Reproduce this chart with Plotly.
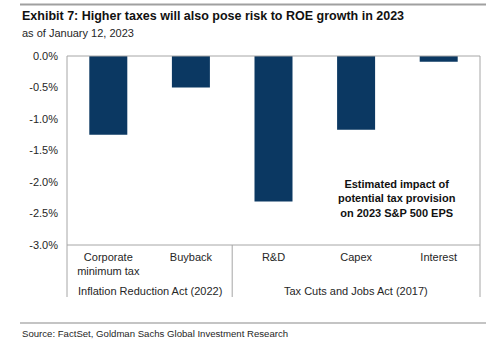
import plotly.graph_objects as go

categories = ["Corporate<br>minimum tax", "Buyback", "R&D", "Capex", "Interest"]
values = [-1.25, -0.50, -2.31, -1.17, -0.09]
groups = ["Inflation Reduction Act (2022)", "Tax Cuts and Jobs Act (2017)"]
group_sizes = [2, 3]
y_ticks = [0.0, -0.5, -1.0, -1.5, -2.0, -2.5, -3.0]
y_ticktext = ["0.0%", "-0.5%", "-1.0%", "-1.5%", "-2.0%", "-2.5%", "-3.0%"]

W, H = 500, 345
L, R, T, B = 67, 20, 56, 100
ph = H - T - B

def py(pix):
    return (H - B - pix) / ph

def px(pix):
    return (pix - L) / (W - L - R)

FONT = "Liberation Sans, Arial, sans-serif"
GRAY = "#a6a6a6"
TXT = "#262626"

fig = go.Figure(go.Bar(x=categories, y=values, marker_color="#0b3862",
                       marker_line_width=0, hoverinfo="skip"))

shapes = []
bottom = py(297)
shapes.append(dict(type="line", xref="paper", yref="paper", x0=0, x1=0, y0=1, y1=bottom, line=dict(color=GRAY, width=1)))
shapes.append(dict(type="line", xref="paper", yref="paper", x0=1, x1=1, y0=1, y1=bottom, line=dict(color=GRAY, width=1)))
shapes.append(dict(type="line", xref="paper", yref="paper", x0=0, x1=1, y0=0, y1=0, line=dict(color=GRAY, width=1)))
shapes.append(dict(type="line", xref="paper", yref="paper", x0=0, x1=1, y0=1, y1=1, line=dict(color=GRAY, width=1)))
n = len(categories)
cum = 0
annotations = []
for g, s in zip(groups, group_sizes):
    start = cum
    cum += s
    if cum < n:
        shapes.append(dict(type="line", xref="paper", yref="paper", x0=cum / n, x1=cum / n,
                           y0=0, y1=bottom, line=dict(color=GRAY, width=1)))
    annotations.append(dict(text=g, xref="paper", yref="paper", x=(start + cum) / 2 / n, y=py(291),
                            showarrow=False, font=dict(family=FONT, size=11, color=TXT),
                            xanchor="center", yanchor="middle"))
# page rules
shapes.append(dict(type="line", xref="paper", yref="paper", x0=px(20), x1=px(486), y0=py(4.5), y1=py(4.5),
                   line=dict(color="#a0a0a0", width=2)))
shapes.append(dict(type="line", xref="paper", yref="paper", x0=px(20), x1=px(486), y0=py(323), y1=py(323),
                   line=dict(color="#b0b0b0", width=1.5)))

annotations += [
    dict(text="<b>Exhibit 7: Higher taxes will also pose risk to ROE growth in 2023</b>", xref="paper", yref="paper",
         x=px(20), y=py(16.5), xanchor="left", yanchor="middle", showarrow=False,
         font=dict(family=FONT, size=12.5, color="#111")),
    dict(text="as of January 12, 2023", xref="paper", yref="paper",
         x=px(20), y=py(33), xanchor="left", yanchor="middle", showarrow=False,
         font=dict(family=FONT, size=11, color=TXT)),
    dict(text="Source: FactSet, Goldman Sachs Global Investment Research", xref="paper", yref="paper",
         x=px(20), y=py(333), xanchor="left", yanchor="middle", showarrow=False,
         font=dict(family=FONT, size=9.6, color=TXT)),
    dict(text="<b>Estimated impact of<br>potential tax provision<br>on 2023 S&P 500 EPS</b>", xref="paper", yref="paper",
         x=px(397), y=py(198), xanchor="center", yanchor="middle", showarrow=False, align="center",
         font=dict(family=FONT, size=11, color="#111")),
]

fig.update_layout(
    width=W, height=H, margin=dict(l=L, r=R, t=T, b=B),
    paper_bgcolor="white", plot_bgcolor="white",
    bargap=0.54, showlegend=False,
    shapes=shapes, annotations=annotations,
    font=dict(family=FONT, size=11, color=TXT),
)
fig.update_xaxes(showgrid=False, showline=False, zeroline=False, ticks="", ticklabelstandoff=4,
                 tickfont=dict(family=FONT, size=11, color=TXT), fixedrange=True)
fig.update_yaxes(range=[-3, 0], tickvals=y_ticks, ticktext=y_ticktext, showgrid=False,
                 showline=False, zeroline=False, ticks="", ticklabelstandoff=8,
                 tickfont=dict(family=FONT, size=11, color=TXT), fixedrange=True)

fig.write_html("out.html", config={"displayModeBar": False})
